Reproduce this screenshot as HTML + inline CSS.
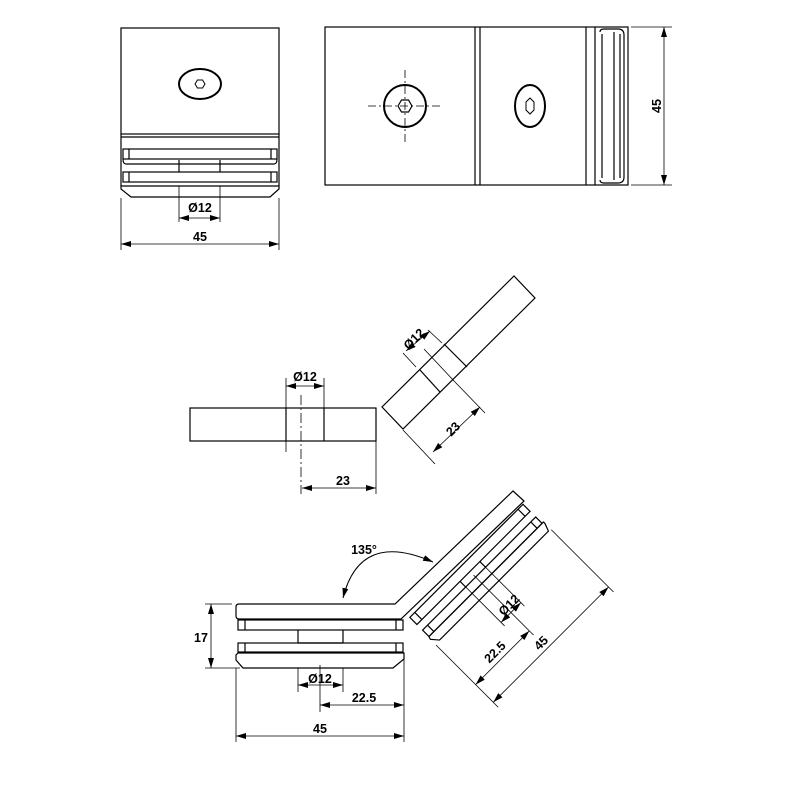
<!DOCTYPE html>
<html><head><meta charset="utf-8"><style>
html,body{margin:0;padding:0;background:#fff}
svg{display:block}
text{font-family:"Liberation Sans",Arial,sans-serif;font-weight:bold;font-size:12.5px;fill:#000}
</style></head><body>
<svg width="800" height="800" viewBox="0 0 800 800" xmlns="http://www.w3.org/2000/svg">
<defs>
<marker id="a" viewBox="0 0 10 6" refX="10" refY="3" markerWidth="10" markerHeight="6" markerUnits="userSpaceOnUse" orient="auto-start-reverse"><path d="M0,0 L10,3 L0,6 Z" fill="#000"/></marker>
</defs>
<g fill="none" stroke="#000" stroke-width="1.2">
<!-- top-left view -->
<rect x="121" y="28" width="158" height="106"/>
<line x1="121" y1="137" x2="279" y2="137"/>
<line x1="121" y1="134" x2="121" y2="186"/><line x1="279" y1="134" x2="279" y2="186"/>
<rect x="123" y="149" width="154" height="10"/>
<line x1="129" y1="149" x2="129" y2="159"/><line x1="271" y1="149" x2="271" y2="159"/>
<path d="M123,159 Q123,164 126,164 L274,164 Q277,164 277,159"/>
<line x1="179" y1="160" x2="179" y2="172"/><line x1="220" y1="160" x2="220" y2="172"/>
<rect x="123" y="172" width="154" height="10"/>
<line x1="129" y1="172" x2="129" y2="182"/><line x1="271" y1="172" x2="271" y2="182"/>
<path d="M121,186 L279,186 L279,189 L270,197 L131,197 L121,189 Z"/>
<ellipse cx="200" cy="84" rx="21" ry="15" stroke-width="2"/>
<path d="M195,84 L197.5,80 L202.5,80 L205,84 L202.5,88 L197.5,88 Z" stroke-width="1"/>
<line x1="179" y1="186" x2="179" y2="222" stroke-width="0.8"/><line x1="220" y1="186" x2="220" y2="222" stroke-width="0.8"/>
<line x1="179" y1="218" x2="220" y2="218" stroke-width="0.8" marker-start="url(#a)" marker-end="url(#a)"/>
<line x1="121" y1="198" x2="121" y2="250" stroke-width="0.8"/><line x1="279" y1="198" x2="279" y2="250" stroke-width="0.8"/>
<line x1="121" y1="244" x2="279" y2="244" stroke-width="0.8" marker-start="url(#a)" marker-end="url(#a)"/>

<!-- top-right view -->
<rect x="325" y="27" width="303" height="158"/>
<line x1="475" y1="27" x2="475" y2="185"/><line x1="480" y1="27" x2="480" y2="185"/>
<line x1="586" y1="27" x2="586" y2="185"/>
<line x1="595" y1="27" x2="595" y2="185"/>
<path d="M600,32 Q600,29 604,29 L618,29 Q624,29 624,35 L624,177 Q624,183 618,183 L604,183 Q600,183 600,180"/>
<line x1="602" y1="34" x2="602" y2="178"/><line x1="614" y1="32" x2="614" y2="180"/><line x1="620" y1="34" x2="620" y2="178"/>
<circle cx="405" cy="106" r="21" stroke-width="2"/>
<path d="M398,106 L401.5,100 L408.5,100 L412,106 L408.5,112 L401.5,112 Z" stroke-width="1.2"/>
<line x1="368" y1="106" x2="442" y2="106" stroke-width="0.8" stroke-dasharray="8,3,2,3"/>
<line x1="405" y1="70" x2="405" y2="142" stroke-width="0.8" stroke-dasharray="8,3,2,3"/>
<ellipse cx="530" cy="106" rx="15" ry="21" stroke-width="2"/>
<path d="M526,102 L530,98 L534,102 L534,110 L530,114 L526,110 Z" stroke-width="1"/>
<line x1="631" y1="27" x2="672" y2="27" stroke-width="0.8"/><line x1="631" y1="185" x2="672" y2="185" stroke-width="0.8"/>
<line x1="664" y1="27" x2="664" y2="185" stroke-width="0.8" marker-start="url(#a)" marker-end="url(#a)"/>

<!-- middle-left -->
<rect x="190" y="408" width="186" height="33"/>
<line x1="286" y1="408" x2="286" y2="441"/><line x1="324" y1="408" x2="324" y2="441"/>
<line x1="286" y1="378" x2="286" y2="452" stroke-width="0.8"/><line x1="324" y1="378" x2="324" y2="408" stroke-width="0.8"/>
<line x1="301" y1="395" x2="301" y2="494" stroke-width="0.8" stroke-dasharray="10,3,2,3"/>
<line x1="286" y1="386" x2="324" y2="386" stroke-width="0.8" marker-start="url(#a)" marker-end="url(#a)"/>
<line x1="376" y1="441" x2="376" y2="494" stroke-width="0.8"/>
<line x1="302" y1="488" x2="376" y2="488" stroke-width="0.8" marker-start="url(#a)" marker-end="url(#a)"/>

<!-- middle-right rotated bar -->
<path d="M382,407 L403,429 L535,298 L514,276 Z"/>
<line x1="420" y1="370" x2="440" y2="392"/><line x1="444" y1="344" x2="467" y2="367"/>
<line x1="403" y1="353" x2="416" y2="367" stroke-width="0.8"/><line x1="428" y1="330" x2="442" y2="343" stroke-width="0.8"/>
<line x1="424" y1="349" x2="455" y2="382" stroke-width="0.8"/>
<line x1="406" y1="351" x2="430" y2="331" stroke-width="0.8" marker-start="url(#a)" marker-end="url(#a)"/>
<line x1="403" y1="430" x2="435" y2="464" stroke-width="0.8"/><line x1="455" y1="382" x2="485" y2="413" stroke-width="0.8"/>
<line x1="433" y1="452" x2="480" y2="407" stroke-width="0.8" marker-start="url(#a)" marker-end="url(#a)"/>

<!-- bottom assembly horizontal -->
<path d="M239,604 L395,604 L513,491 L524,501 L401,619 L239,619 Q236,619 236,616 L236,607 Q236,604 239,604 Z"/>
<rect x="238" y="620" width="165" height="10"/>
<line x1="245" y1="620" x2="245" y2="630"/><line x1="396" y1="620" x2="396" y2="630"/>
<line x1="298" y1="630" x2="298" y2="643"/><line x1="343" y1="630" x2="343" y2="643"/>
<line x1="298" y1="643" x2="343" y2="643"/>
<rect x="238" y="643" width="165" height="9"/>
<line x1="245" y1="643" x2="245" y2="652"/><line x1="396" y1="643" x2="396" y2="652"/>
<path d="M238,653 L404,653 L404,659 L393,668 L243,668 L236,660 L236,655 Z"/>
<!-- angled stack -->
<g transform="translate(395,604) rotate(-45)">
<rect x="1" y="20" width="160" height="10"/>
<line x1="8" y1="20" x2="8" y2="30"/><line x1="154" y1="20" x2="154" y2="30"/>
<line x1="62" y1="30" x2="62" y2="38"/><line x1="90" y1="30" x2="90" y2="38"/>
<rect x="1" y="38" width="160" height="9"/>
<line x1="8" y1="38" x2="8" y2="47"/><line x1="154" y1="38" x2="154" y2="47"/>
<path d="M1,47 L163,47 L163,49 L160,57 L6,57 L0,50 Z"/>
<line x1="62" y1="38" x2="62" y2="93" stroke-width="0.8"/><line x1="90" y1="38" x2="90" y2="93" stroke-width="0.8"/>
<line x1="76" y1="35" x2="76" y2="120" stroke-width="0.8"/>
<line x1="0" y1="58" x2="0" y2="146" stroke-width="0.8"/><line x1="163" y1="58" x2="163" y2="146" stroke-width="0.8"/>
<line x1="62" y1="88" x2="90" y2="88" stroke-width="0.8" marker-start="url(#a)" marker-end="url(#a)"/>
<line x1="0" y1="114" x2="76" y2="114" stroke-width="0.8" marker-start="url(#a)" marker-end="url(#a)"/>
<line x1="0" y1="139" x2="163" y2="139" stroke-width="0.8" marker-start="url(#a)" marker-end="url(#a)"/>
</g>
<path d="M343,598 Q360,530 433,562" stroke-width="1" marker-start="url(#a)" marker-end="url(#a)"/>
<line x1="205" y1="604" x2="232" y2="604" stroke-width="0.8"/><line x1="205" y1="668" x2="240" y2="668" stroke-width="0.8"/>
<line x1="211" y1="604" x2="211" y2="668" stroke-width="0.8" marker-start="url(#a)" marker-end="url(#a)"/>
<line x1="298" y1="668" x2="298" y2="692" stroke-width="0.8"/><line x1="343" y1="668" x2="343" y2="692" stroke-width="0.8"/>
<line x1="320" y1="665" x2="320" y2="712" stroke-width="0.8"/>
<line x1="298" y1="685" x2="343" y2="685" stroke-width="0.8" marker-start="url(#a)" marker-end="url(#a)"/>
<line x1="320" y1="705" x2="404" y2="705" stroke-width="0.8" marker-start="url(#a)" marker-end="url(#a)"/>
<line x1="236" y1="668" x2="236" y2="742" stroke-width="0.8"/><line x1="404" y1="659" x2="404" y2="742" stroke-width="0.8"/>
<line x1="236" y1="736" x2="404" y2="736" stroke-width="0.8" marker-start="url(#a)" marker-end="url(#a)"/>
</g>
<text x="200" y="212" text-anchor="middle">Ø12</text>
<text x="200" y="241" text-anchor="middle">45</text>
<text transform="translate(661,106) rotate(-90)" text-anchor="middle">45</text>
<text x="305" y="381" text-anchor="middle">Ø12</text>
<text x="343" y="485" text-anchor="middle">23</text>
<text transform="translate(417,342) rotate(-45)" text-anchor="middle">Ø12</text>
<text transform="translate(456,432) rotate(-45)" text-anchor="middle">23</text>
<text x="364" y="554" text-anchor="middle">135°</text>
<text x="201" y="642" text-anchor="middle">17</text>
<text x="320" y="683" text-anchor="middle">Ø12</text>
<text x="364" y="702" text-anchor="middle">22.5</text>
<text x="320" y="733" text-anchor="middle">45</text>
<text transform="translate(512,608) rotate(-45)" text-anchor="middle">Ø12</text>
<text transform="translate(498,655) rotate(-45)" text-anchor="middle">22.5</text>
<text transform="translate(544,646) rotate(-45)" text-anchor="middle">45</text>
</svg>
</body></html>
